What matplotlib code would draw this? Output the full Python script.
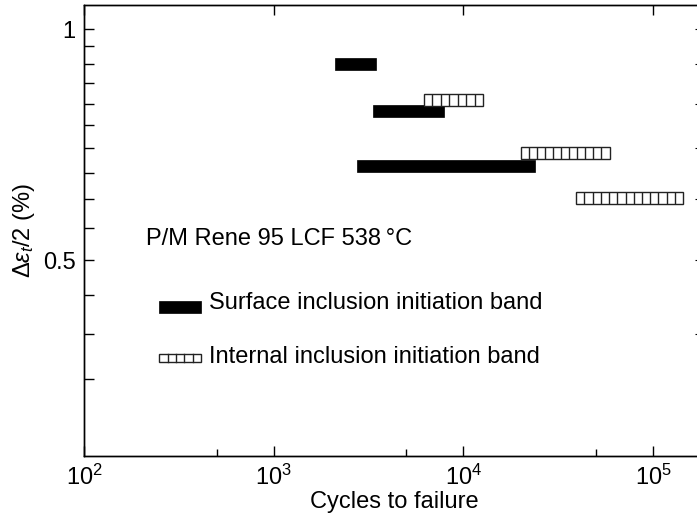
import numpy as np
import matplotlib.pyplot as plt
from matplotlib.patches import Rectangle

plt.rcParams.update({
    "font.size": 17,
    "font.family": ["Liberation Sans", "DejaVu Sans"],
    "mathtext.fontset": "custom",
    "mathtext.rm": "Liberation Sans",
    "mathtext.it": "Liberation Sans:italic",
    "mathtext.sf": "Liberation Sans",
    "axes.linewidth": 1.0,
})

# bands: strain amplitude (%) and cycle range
surface_strain = [0.90, 0.782, 0.663]
surface_start = [2100, 3350, 2750]
surface_end = [3480, 7900, 23900]

internal_strain = [0.809, 0.690, 0.6025]
internal_start = [6200, 20100, 39400]
internal_end = [12700, 59000, 144000]

major_y = [0.5, 1.0]
minor_y_left = [0.35, 0.4, 0.45, 0.55, 0.6, 0.65, 0.7, 0.75, 0.8, 0.85, 0.9, 0.95]
right_y = [0.4, 0.5, 0.6, 0.7, 0.8, 0.9, 1.0]

CELL = 0.0433      # width of one hatch cell, decades
BAND = 1.0182      # band half-height factor (log)

fig = plt.figure(figsize=(6.97, 5.13), dpi=100)
ax = fig.add_axes([84 / 697, 57 / 513, 621 / 697, 451 / 513])
ax.set_xscale("log")
ax.set_yscale("log")
ax.set_xlim(100, 1.88e5)
ax.set_ylim(0.2776, 1.076)

for y, x0, x1 in zip(surface_strain, surface_start, surface_end):
    ax.add_patch(Rectangle((x0, y / BAND), x1 - x0, y * BAND - y / BAND,
                           facecolor="black", edgecolor="black", lw=0.5))

for y, x0, x1 in zip(internal_strain, internal_start, internal_end):
    ax.add_patch(Rectangle((x0, y / BAND), x1 - x0, y * BAND - y / BAND,
                           facecolor="white", edgecolor="#222222", lw=1.0))
    n = int(round(np.log10(x1 / x0) / CELL))
    xs = np.geomspace(x0, x1, n + 1)[1:-1]
    ax.vlines(xs, y / BAND, y * BAND, color="#222222", lw=1.0)

# axes ticks
ax.set_xticks([1e2, 1e3, 1e4, 1e5])
ax.set_xticks([5e2, 5e3, 5e4], minor=True)
ax.set_yticks(major_y)
ax.set_yticklabels(["0.5", "1"])
ax.set_yticks(minor_y_left, minor=True)
ax.yaxis.set_minor_formatter(plt.NullFormatter())
ax.tick_params(axis="both", which="both", direction="in", width=1.0)
ax.tick_params(axis="x", which="major", length=7, top=True, pad=6)
ax.tick_params(axis="x", which="minor", length=5)
ax.tick_params(axis="y", which="both", length=7, pad=6)

axr = ax.twinx()
axr.set_yscale("log")
axr.set_ylim(ax.get_ylim())
axr.set_yticks(right_y)
axr.yaxis.set_minor_locator(plt.NullLocator())
axr.tick_params(axis="y", direction="in", length=7, labelright=False)

ax.set_xlabel("Cycles to failure", labelpad=1)
ax.set_ylabel(r"$\Delta\varepsilon_t$/2 (%)", labelpad=4)

ax.text(0.100, 0.481, "P/M Rene 95 LCF 538\u2009°C", transform=ax.transAxes,
        ha="left", va="center")

# legend drawn by hand
sw_x0, sw_x1 = 0.121, 0.189
ax.add_patch(Rectangle((sw_x0, 0.317), sw_x1 - sw_x0, 0.027, transform=ax.transAxes,
                       facecolor="black", edgecolor="black", lw=0.5))
ax.text(0.2006, 0.339, "Surface inclusion initiation band", transform=ax.transAxes,
        ha="left", va="center")
ax.add_patch(Rectangle((sw_x0, 0.208), sw_x1 - sw_x0, 0.018, transform=ax.transAxes,
                       facecolor="white", edgecolor="#222222", lw=1.0))
for xi in np.linspace(sw_x0, sw_x1, 6)[1:-1]:
    ax.plot([xi, xi], [0.208, 0.226], transform=ax.transAxes, color="#222222", lw=1.0)
ax.text(0.2006, 0.2195, "Internal inclusion initiation band", transform=ax.transAxes,
        ha="left", va="center")

fig.savefig("out.png", dpi=100)
